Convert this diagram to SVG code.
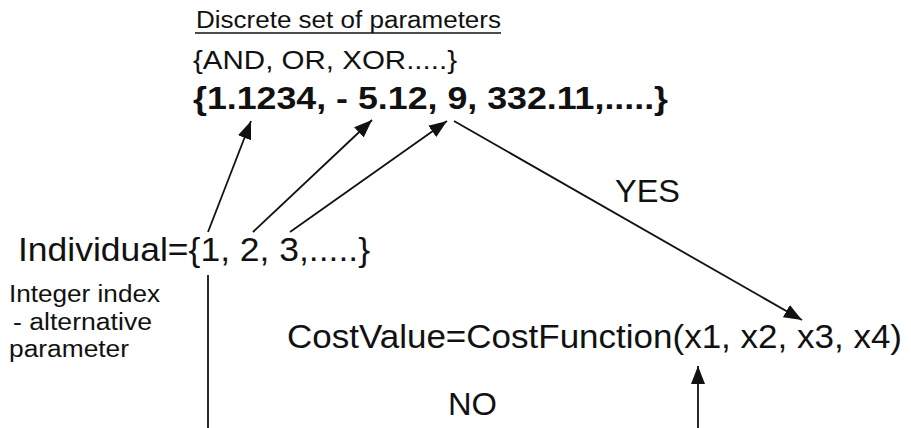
<svg xmlns="http://www.w3.org/2000/svg" width="911" height="428" viewBox="0 0 911 428">
  <defs>
    <style>
      text { font-family: "Liberation Sans", Arial, sans-serif; fill: #111; }
      .bold { font-weight: bold; }
      .wire { stroke: #111; stroke-width: 1.8; fill: none; }
    </style>
    <marker id="head" markerUnits="userSpaceOnUse" markerWidth="20" markerHeight="16" refX="18" refY="7" orient="auto">
      <path d="M0,0 L18,7 L0,14 z" fill="#111"/>
    </marker>
  </defs>
  <rect width="911" height="428" fill="#fff"/>

  <g id="param-set">
    <text x="196" y="28" font-size="23" textLength="305" lengthAdjust="spacingAndGlyphs">Discrete set of parameters</text>
    <line x1="195" y1="33" x2="501" y2="33" stroke="#111" stroke-width="1.5"/>
    <text x="193" y="69" font-size="25" textLength="264" lengthAdjust="spacingAndGlyphs">{AND, OR, XOR.....}</text>
    <text class="bold" x="193" y="109" font-size="31" textLength="475" lengthAdjust="spacingAndGlyphs">{1.1234, - 5.12, 9, 332.11,.....}</text>
  </g>

  <g id="individual">
    <text x="18" y="261" font-size="34" textLength="352" lengthAdjust="spacingAndGlyphs">Individual={1, 2, 3,.....}</text>
  </g>

  <g id="index-note">
    <text x="9" y="302" font-size="23" textLength="151" lengthAdjust="spacingAndGlyphs">Integer index</text>
    <text x="13" y="330" font-size="23" textLength="139" lengthAdjust="spacingAndGlyphs">- alternative</text>
    <text x="9" y="357" font-size="23" textLength="120" lengthAdjust="spacingAndGlyphs">parameter</text>
  </g>

  <g id="cost">
    <text x="287" y="348" font-size="33" textLength="615" lengthAdjust="spacingAndGlyphs">CostValue=CostFunction(x1, x2, x3, x4)</text>
  </g>

  <g id="labels">
    <text x="615" y="202" font-size="31" textLength="65" lengthAdjust="spacingAndGlyphs">YES</text>
    <text x="448" y="415" font-size="31" textLength="49" lengthAdjust="spacingAndGlyphs">NO</text>
  </g>

  <g id="connectors">
    <line class="wire" x1="208" y1="232" x2="251" y2="121" marker-end="url(#head)"/>
    <line class="wire" x1="253" y1="232" x2="372" y2="120" marker-end="url(#head)"/>
    <line class="wire" x1="290" y1="232" x2="447" y2="121" marker-end="url(#head)"/>
    <line class="wire" x1="454" y1="121" x2="802" y2="320" marker-end="url(#head)"/>
    <line class="wire" x1="208" y1="275" x2="208" y2="428"/>
    <line class="wire" x1="698" y1="428" x2="698" y2="366" marker-end="url(#head)"/>
  </g>
</svg>
